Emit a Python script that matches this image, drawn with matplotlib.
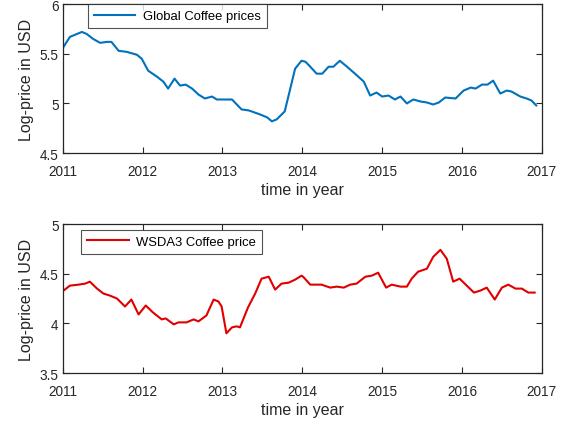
import numpy as np
import matplotlib
matplotlib.use("Agg")
import matplotlib.pyplot as plt

# =========================
# DATA
# =========================
global_years = [2011.01, 2011.09, 2011.24, 2011.30, 2011.38, 2011.47, 2011.55, 2011.61,
                2011.70, 2011.80, 2011.93, 2011.99, 2012.07, 2012.18, 2012.26, 2012.32,
                2012.40, 2012.47, 2012.54, 2012.62, 2012.70, 2012.78, 2012.87, 2012.93,
                2013.12, 2013.24, 2013.33, 2013.47, 2013.56, 2013.62, 2013.68, 2013.78,
                2013.85, 2013.91, 2013.99, 2014.04, 2014.10, 2014.18, 2014.25, 2014.33,
                2014.39, 2014.47, 2014.56, 2014.66, 2014.77, 2014.85, 2014.93, 2015.00,
                2015.08, 2015.16, 2015.23, 2015.31, 2015.39, 2015.48, 2015.56, 2015.64,
                2015.71, 2015.79, 2015.92, 2016.02, 2016.11, 2016.17, 2016.25, 2016.32,
                2016.39, 2016.48, 2016.56, 2016.62, 2016.73, 2016.81, 2016.87, 2016.93]
global_price = [5.57, 5.67, 5.72, 5.70, 5.65, 5.61, 5.62, 5.62,
                5.53, 5.52, 5.49, 5.45, 5.33, 5.27, 5.22, 5.15,
                5.25, 5.18, 5.19, 5.15, 5.09, 5.05, 5.07, 5.04,
                5.04, 4.94, 4.93, 4.89, 4.86, 4.82, 4.84, 4.92,
                5.15, 5.35, 5.43, 5.42, 5.37, 5.30, 5.30, 5.37,
                5.37, 5.43, 5.37, 5.30, 5.22, 5.08, 5.11, 5.07,
                5.08, 5.04, 5.07, 5.00, 5.04, 5.02, 5.01, 4.99,
                5.01, 5.06, 5.05, 5.13, 5.16, 5.15, 5.19, 5.19,
                5.23, 5.10, 5.13, 5.12, 5.07, 5.05, 5.03, 4.98]

wsda_years = [2011.01, 2011.09, 2011.20, 2011.28, 2011.34, 2011.43, 2011.51, 2011.59,
              2011.68, 2011.78, 2011.86, 2011.95, 2012.04, 2012.13, 2012.24, 2012.29,
              2012.39, 2012.45, 2012.55, 2012.64, 2012.70, 2012.80, 2012.89, 2012.95,
              2012.99, 2013.05, 2013.12, 2013.18, 2013.22, 2013.32, 2013.41, 2013.49,
              2013.58, 2013.66, 2013.74, 2013.83, 2013.91, 2013.99, 2014.01, 2014.10,
              2014.24, 2014.35, 2014.43, 2014.52, 2014.60, 2014.68, 2014.79, 2014.87,
              2014.95, 2015.05, 2015.12, 2015.23, 2015.31, 2015.37, 2015.45, 2015.56,
              2015.64, 2015.73, 2015.81, 2015.89, 2015.97, 2016.06, 2016.15, 2016.23,
              2016.31, 2016.41, 2016.50, 2016.58, 2016.67, 2016.75, 2016.83, 2016.91]
wsda_price = [4.33, 4.38, 4.39, 4.40, 4.42, 4.35, 4.30, 4.28,
              4.25, 4.17, 4.24, 4.09, 4.18, 4.11, 4.04, 4.05,
              3.99, 4.01, 4.01, 4.04, 4.02, 4.08, 4.24, 4.22,
              4.17, 3.90, 3.96, 3.97, 3.96, 4.16, 4.30, 4.45,
              4.47, 4.34, 4.40, 4.41, 4.44, 4.48, 4.47, 4.39,
              4.39, 4.36, 4.37, 4.36, 4.39, 4.40, 4.47, 4.48,
              4.51, 4.36, 4.39, 4.37, 4.37, 4.45, 4.52, 4.55,
              4.67, 4.74, 4.65, 4.42, 4.45, 4.38, 4.31, 4.33,
              4.36, 4.24, 4.36, 4.39, 4.35, 4.35, 4.31, 4.31]

year_ticks = [2011, 2012, 2013, 2014, 2015, 2016, 2017]
top_yticks = [4.5, 5, 5.5, 6]
bottom_yticks = [3.5, 4, 4.5, 5]

plt.rcParams["font.family"] = ["Liberation Sans", "DejaVu Sans"]

AX_COLOR = "#262626"


def style_axis(ax, yticks):
    ax.set_xlim(2011, 2017)
    ax.set_ylim(yticks[0], yticks[-1])
    ax.set_xticks(year_ticks)
    ax.set_xticklabels([str(y) for y in year_ticks])
    ax.set_yticks(yticks)
    ax.set_yticklabels([f"{v:g}" for v in yticks])
    ax.tick_params(direction="in", length=4, width=0.8, top=True, right=True,
                   labelsize=9.8, colors=AX_COLOR)
    ax.tick_params(axis="x", pad=8)
    ax.tick_params(axis="y", pad=3)
    for s in ax.spines.values():
        s.set_color(AX_COLOR)
        s.set_linewidth(0.9)
    ax.set_xlabel("time in year", fontsize=11.5, color=AX_COLOR, labelpad=3)
    ax.set_ylabel("Log-price in USD", fontsize=11.5, color=AX_COLOR, labelpad=4)


fig = plt.figure(figsize=(5.65, 4.27), dpi=100)
ax1 = fig.add_axes([0.111, 0.639, 0.848, 0.349])
ax2 = fig.add_axes([0.111, 0.124, 0.848, 0.349])

ax1.plot(global_years, global_price, color="#0072BD", linewidth=1.5, label="Global Coffee prices")
style_axis(ax1, top_yticks)
leg1 = ax1.legend(loc="upper left", bbox_to_anchor=(0.052, 1.0), fontsize=9.4,
                  frameon=True, fancybox=False, borderpad=0.45, handlelength=3.2,
                  handletextpad=0.6, borderaxespad=0)
leg1.get_frame().set_edgecolor(AX_COLOR)
leg1.get_frame().set_linewidth(0.8)

ax2.plot(wsda_years, wsda_price, color="#E00000", linewidth=1.5, label="WSDA3 Coffee price")
style_axis(ax2, bottom_yticks)
leg2 = ax2.legend(loc="upper left", bbox_to_anchor=(0.038, 0.96), fontsize=9.4,
                  frameon=True, fancybox=False, borderpad=0.45, handlelength=3.2,
                  handletextpad=0.6, borderaxespad=0)
leg2.get_frame().set_edgecolor(AX_COLOR)
leg2.get_frame().set_linewidth(0.8)

fig.savefig("out.png", dpi=100)
